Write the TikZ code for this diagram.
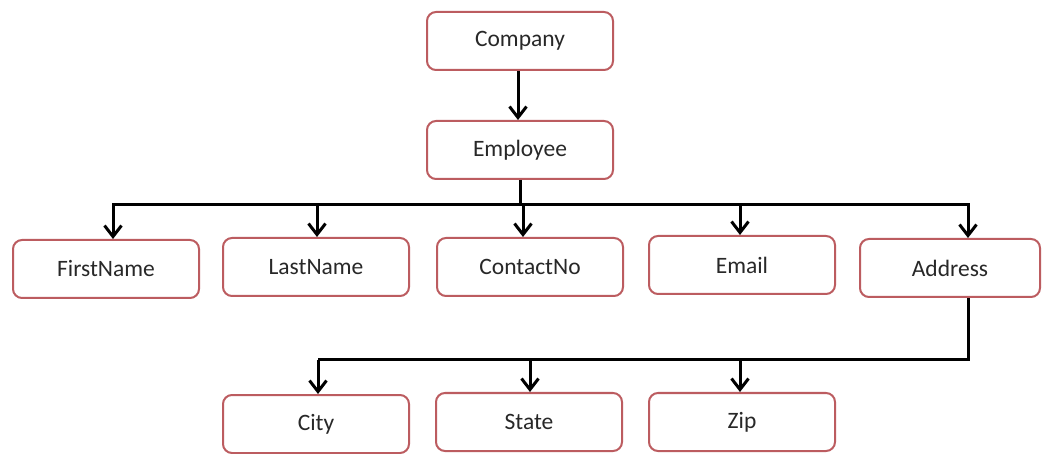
\documentclass[tikz,border=0pt]{standalone}
\usepackage{fontspec}
\setmainfont{Carlito}
\usetikzlibrary{arrows.meta}
\definecolor{boxred}{RGB}{188,92,96}
\definecolor{txt}{RGB}{40,40,40}
\begin{document}
\begin{tikzpicture}[x=1pt,y=-1pt,
  entity/.style={draw=boxred,line width=2pt,rounded corners=9pt,fill=white,
    minimum width=186pt,minimum height=58pt,inner sep=0pt,
    font=\fontsize{23.5}{26}\selectfont,text=txt},
  link/.style={line width=3pt,black},
  arr/.style={link,-{Straight Barb[length=11pt,width=17pt,line width=3pt]}}]
\useasboundingbox (0,0) rectangle (1050,454);
\fill[white] (0,0) rectangle (1050,454);
% nodes
\node[entity] (company) at (520,41) {Company};
\node[entity] (employee) at (520,150) {Employee};
\node[entity] (first) at (106,269) {FirstName};
\node[entity] (last) at (316,267) {LastName};
\node[entity] (contact) at (530,267) {ContactNo};
\node[entity] (email) at (742,265) {Email};
\node[entity,minimum width=180pt] (address) at (950,268) {Address};
\node[entity] (city) at (316,424) {City};
\node[entity] (state) at (529,422) {State};
\node[entity] (zip) at (742,422) {Zip};
% bus coordinates
\coordinate (e0) at (520,205);
\coordinate (bL) at (113,205);
\coordinate (bR) at (968,205);
\coordinate (b2) at (317,205);
\coordinate (b3) at (523,205);
\coordinate (b4) at (740,205);
\coordinate (a0) at (968,298);
\coordinate (c0) at (968,360);
\coordinate (cL) at (318,360);
\coordinate (c2) at (530,360);
\coordinate (c3) at (740,360);
% connectors
\draw[arr] (company.south -| 518,0) -- (employee.north -| 518,0);
\draw[link] (employee.south) -- (e0);
\draw[link,line cap=rect] (bL) -- (bR);
\draw[arr] (bL) -- (bL |- first.north);
\draw[arr] (b2) -- (b2 |- last.north);
\draw[arr] (b3) -- (b3 |- contact.north);
\draw[arr] (b4) -- (b4 |- email.north);
\draw[arr] (bR) -- (bR |- address.north);
\draw[link] (a0 |- address.south) -- (c0) -- (cL);
\draw[arr] (cL) -- (cL |- city.north);
\draw[arr] (c2) -- (c2 |- state.north);
\draw[arr] (c3) -- (c3 |- zip.north);
\end{tikzpicture}
\end{document}
